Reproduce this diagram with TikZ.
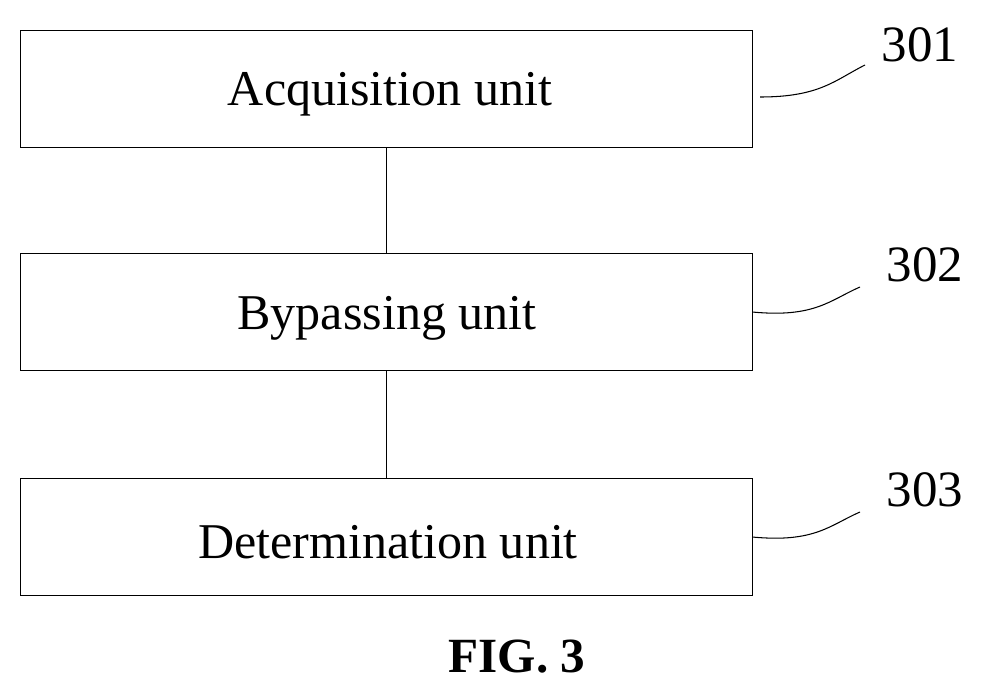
\documentclass[tikz,border=0pt]{standalone}
\usepackage{fontspec}
\setmainfont{Liberation Serif}
\begin{document}
\begin{tikzpicture}[x=0.02cm, y=-0.02cm,
  unit/.style={draw, minimum width=14.64cm, minimum height=2.34cm, inner sep=0pt, font=\fontsize{28.5}{34}\selectfont},
  tag/.style={font=\fontsize{29}{34}\selectfont, inner sep=0pt}]

\useasboundingbox (0,0) rectangle (987,694);

\node [unit] (acq) at (386,88.5) {};
\node [unit] (byp) at (386,312) {};
\node [unit] (det) at (386,537) {};

\node [font=\fontsize{28.5}{34}\selectfont] (lacq) at (390,94) {Acquisition unit};
\node [font=\fontsize{28.5}{34}\selectfont] (lbyp) at (387,318) {Bypassing unit};
\node [font=\fontsize{28.5}{34}\selectfont] (ldet) at (388,542) {Determination unit};

\node [tag] (t301) at (920,45) {301};
\node [tag] (t302) at (925,265) {302};
\node [tag] (t303) at (925,490) {303};

\coordinate (e301) at (865,65);
\coordinate (e302) at (860,287);
\coordinate (e303) at (860,512);

\draw (acq) -- (byp);
\draw (byp) -- (det);

\begin{scope}[line width=0.6pt]
\draw (760,97) .. controls (820,97) and (835,80) .. (e301);
\draw (byp.east) .. controls (815,318) and (830,300) .. (e302);
\draw (det.east) .. controls (815,543) and (830,525) .. (e303);
\end{scope}

\node [font=\bfseries\fontsize{28}{32}\selectfont] (fig) at (517,657) {FIG. 3};

\end{tikzpicture}
\end{document}
